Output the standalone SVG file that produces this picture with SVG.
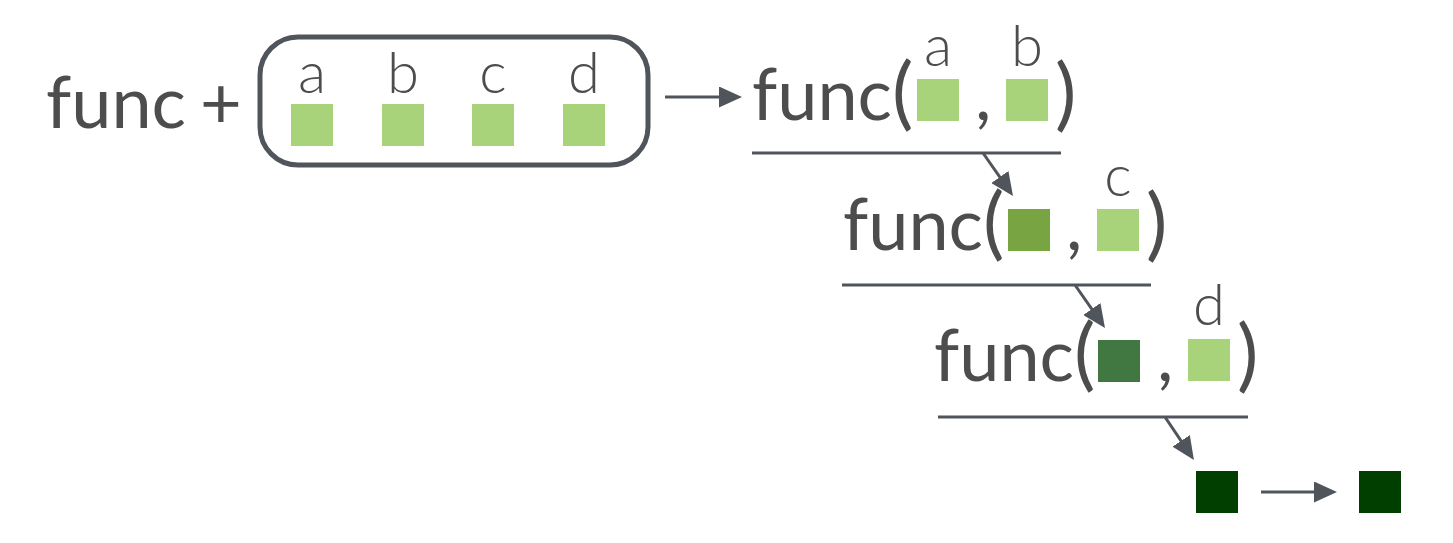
<svg xmlns="http://www.w3.org/2000/svg" width="1453" height="543" viewBox="0 0 1453 543">
  <style>
    .fn { font-family: Lato, "Open Sans", "Liberation Sans", sans-serif; font-size: 72px; fill: #4d4d4d; }
    .par { font-size: 80px; }
    .lbl { font-family: Lato, "Open Sans", "Liberation Sans", sans-serif; font-weight: 300; font-size: 58px; fill: #4d4d4d; text-anchor: middle; }
    .g1 { fill: #a9d37b; }
    .g2 { fill: #78a541; }
    .g3 { fill: #417842; }
    .g4 { fill: #003f00; }
    .edge { stroke: #50555c; stroke-width: 3; fill: none; }
    .bar { stroke: #50555c; stroke-width: 3; }
  </style>
  <defs>
    <marker id="head" viewBox="0 0 23 21" markerWidth="23" markerHeight="21" markerUnits="userSpaceOnUse" refX="12" refY="10.5" orient="auto">
      <path d="M0,0 L23,10.5 L0,21 z" fill="#50555c"/>
    </marker>
  </defs>

  <!-- func + [a b c d] -->
  <g id="input">
    <text class="fn" x="46" y="128">func</text>
    <text class="fn" x="200" y="128">+</text>
    <rect x="260" y="37" width="388" height="128" rx="38" fill="none" stroke="#50555c" stroke-width="5"/>
    <text class="lbl" x="312" y="93">a</text>
    <text class="lbl" x="403" y="93">b</text>
    <text class="lbl" x="493" y="93">c</text>
    <text class="lbl" x="584" y="93">d</text>
    <rect class="g1" x="291" y="104" width="42" height="42"/>
    <rect class="g1" x="382" y="104" width="42" height="42"/>
    <rect class="g1" x="472" y="104" width="42" height="42"/>
    <rect class="g1" x="563" y="104" width="42" height="42"/>
  </g>

  <!-- step 1: func(a, b) -->
  <g id="step1">
    <text class="fn" x="752" y="120">func<tspan class="par">(</tspan></text>
    <rect class="g1" x="917" y="79" width="42" height="42"/>
    <text class="fn" x="975" y="120">,</text>
    <rect class="g1" x="1006" y="79" width="42" height="42"/>
    <text class="fn par" x="1055" y="121">)</text>
    <text class="lbl" x="938" y="66">a</text>
    <text class="lbl" x="1027" y="66">b</text>
    <line class="bar" x1="752" y1="153" x2="1061" y2="153"/>
  </g>

  <!-- step 2: func(ab, c) -->
  <g id="step2">
    <text class="fn" x="843" y="250">func<tspan class="par">(</tspan></text>
    <rect class="g2" x="1008" y="209" width="42" height="42"/>
    <text class="fn" x="1066" y="250">,</text>
    <rect class="g1" x="1097" y="209" width="42" height="42"/>
    <text class="fn par" x="1146" y="251">)</text>
    <text class="lbl" x="1118" y="196">c</text>
    <line class="bar" x1="842" y1="285" x2="1151" y2="285"/>
  </g>

  <!-- step 3: func(abc, d) -->
  <g id="step3">
    <text class="fn" x="934" y="381">func<tspan class="par">(</tspan></text>
    <rect class="g3" x="1098" y="340" width="42" height="42"/>
    <text class="fn" x="1157" y="381">,</text>
    <rect class="g1" x="1188" y="339" width="42" height="42"/>
    <text class="fn par" x="1237" y="382">)</text>
    <text class="lbl" x="1209" y="325">d</text>
    <line class="bar" x1="938" y1="417" x2="1248" y2="417"/>
  </g>

  <!-- reduced result -->
  <g id="result">
    <rect class="g4" x="1196" y="471" width="42" height="42"/>
  </g>
  <g id="output">
    <rect class="g4" x="1359" y="471" width="42" height="42"/>
  </g>

  <g id="connectors">
    <line class="edge" x1="665" y1="97" x2="731" y2="97" marker-end="url(#head)"/>
    <line class="edge" x1="983" y1="153" x2="1006.7" y2="186.9" marker-end="url(#head)"/>
    <line class="edge" x1="1075" y1="285" x2="1098.7" y2="318.9" marker-end="url(#head)"/>
    <line class="edge" x1="1165" y1="417" x2="1187.8" y2="450.8" marker-end="url(#head)"/>
    <line class="edge" x1="1261" y1="492" x2="1326" y2="492" marker-end="url(#head)"/>
  </g>
</svg>
